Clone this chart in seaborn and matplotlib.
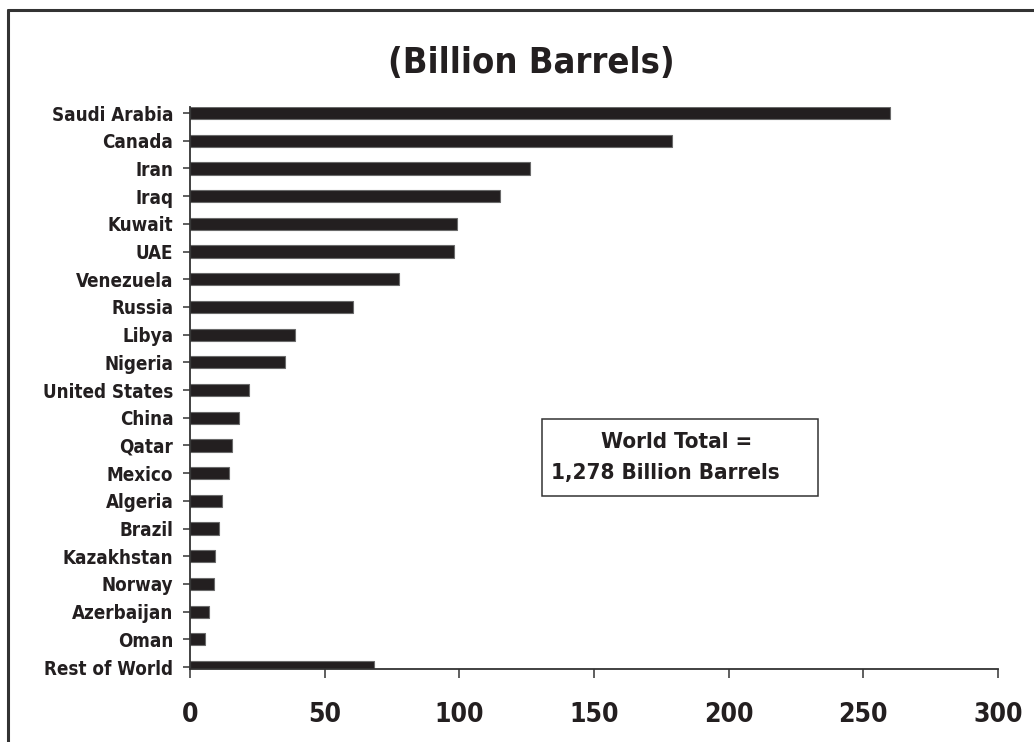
import matplotlib
matplotlib.use("Agg")
import matplotlib.pyplot as plt
import seaborn as sns
import pandas as pd
from matplotlib.lines import Line2D
from matplotlib.patches import Rectangle

countries = ["Saudi Arabia", "Canada", "Iran", "Iraq", "Kuwait", "UAE", "Venezuela",
             "Russia", "Libya", "Nigeria", "United States", "China", "Qatar", "Mexico",
             "Algeria", "Brazil", "Kazakhstan", "Norway", "Azerbaijan", "Oman", "Rest of World"]
reserves = [260.0, 179.1, 126.4, 115.2, 99.3, 98.1, 77.5, 60.4, 39.1, 35.4, 22.0,
            18.3, 15.7, 14.6, 12.0, 10.9, 9.3, 8.8, 7.2, 5.6, 68.4]
xticks = [0, 50, 100, 150, 200, 250, 300]
title = "(Billion Barrels)"
note_lines = ["World Total =", "1,278 Billion Barrels"]

sns.set_style("ticks")
FONT = ["Liberation Sans Narrow", "DejaVu Sans"]
plt.rcParams["font.family"] = FONT
plt.rcParams["font.weight"] = "bold"
plt.rcParams["font.stretch"] = "condensed"

W, H = 1034, 742
AX_L, AX_R, AX_T, AX_B = 190, 998, 107, 669
AW, AH = AX_R - AX_L, AX_B - AX_T
fig = plt.figure(figsize=(W / 100, H / 100), dpi=100)
ax = fig.add_axes([AX_L / W, 1 - AX_B / H, AW / W, AH / H])

df = pd.DataFrame({"country": countries, "reserves": reserves})
sns.barplot(data=df, x="reserves", y="country", orient="h", color="#231f20",
            width=0.44, edgecolor="#6a6a6a", linewidth=0.8, saturation=1, ax=ax)

ax.set_xlim(0, 300)
ax.set_ylim(20.07, -0.22)
ax.set_xticks(xticks)
ax.set_xticklabels([str(t) for t in xticks])
ax.set_xlabel("")
ax.set_ylabel("")
sns.despine(ax=ax)
for s in ["left", "bottom"]:
    ax.spines[s].set_color("#333333")
    ax.spines[s].set_linewidth(1.3)

ax.tick_params(axis="x", length=6.5, width=1.1, color="#333333", pad=17,
               labelsize=19, labelcolor="#231f20")
ax.tick_params(axis="y", length=5, width=1.1, color="#333333", pad=7,
               labelsize=13.5, labelcolor="#231f20")
for lab in ax.get_xticklabels() + ax.get_yticklabels():
    lab.set_fontweight("bold")
    lab.set_family(FONT)

# note box
ax.add_patch(Rectangle(((542 - AX_L) / AW, (AX_B - 496) / AH), (818 - 542) / AW, 77 / AH,
                       transform=ax.transAxes, fill=False, edgecolor="#333333",
                       linewidth=1.1, clip_on=False))
ax.text((677 - AX_L) / AW, (AX_B - 442) / AH, note_lines[0], transform=ax.transAxes,
        ha="center", va="center", fontsize=16, fontweight="bold", color="#231f20", family=FONT)
ax.text((665.5 - AX_L) / AW, (AX_B - 473) / AH, note_lines[1], transform=ax.transAxes,
        ha="center", va="center", fontsize=16, fontweight="bold", color="#231f20", family=FONT)

fig.text(531 / W, 1 - 63 / H, title, ha="center", va="center", fontsize=26,
         fontweight="bold", color="#231f20", family=FONT)

# figure frame (top and left)
fig.add_artist(Line2D([8 / W, 1.0], [1 - 10 / H, 1 - 10 / H], transform=fig.transFigure,
                      color="#333333", linewidth=2.2))
fig.add_artist(Line2D([8 / W, 8 / W], [0.0, 1 - 10 / H], transform=fig.transFigure,
                      color="#333333", linewidth=2.2))

fig.savefig("out.png", dpi=100, facecolor="white")
